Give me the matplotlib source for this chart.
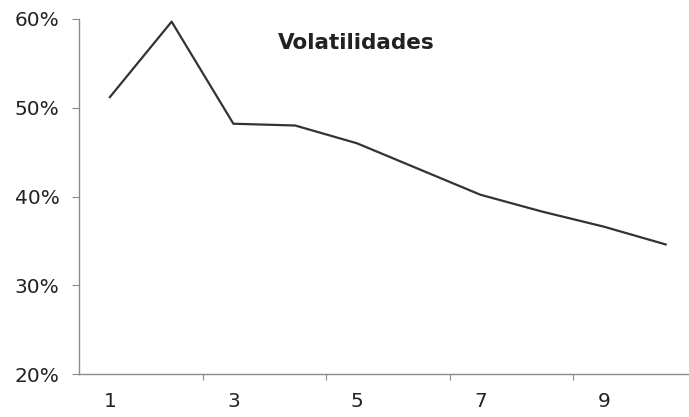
import matplotlib.pyplot as plt
from matplotlib.ticker import FixedLocator, PercentFormatter

# Data
periodo = list(range(1, 11))
volatilidad = [51.2, 59.7, 48.2, 48.0, 46.0, 43.1, 40.2, 38.3, 36.6, 34.6]
y_ticks = [20, 30, 40, 50, 60]
x_labels = [1, 3, 5, 7, 9]

W, H = 689, 417
fig = plt.figure(figsize=(W / 100, H / 100), dpi=100)
ax = fig.add_axes([79 / W, (H - 374) / H, (W - 79) / W, (374 - 19) / H])

ax.plot(periodo, volatilidad, color="#333333", linewidth=1.6)

ax.set_ylim(20, 60)
ax.set_xlim(0.5, 0.5 + (W - 79) / 61.75)

for side in ["top", "right"]:
    ax.spines[side].set_visible(False)
for side in ["left", "bottom"]:
    ax.spines[side].set_color("#8a8a8a")
    ax.spines[side].set_linewidth(1.0)

# y axis
ax.set_yticks(y_ticks)
ax.yaxis.set_major_formatter(PercentFormatter(decimals=0))
ax.tick_params(axis="y", length=5, color="#8a8a8a", pad=9,
               labelsize=14.5, labelcolor="#222222")

# x axis: tick marks between categories, labels on odd categories
ax.xaxis.set_major_locator(FixedLocator([2.5, 4.5, 6.5, 8.5]))
ax.xaxis.set_major_formatter(plt.NullFormatter())
ax.xaxis.set_minor_locator(FixedLocator(x_labels))
ax.set_xticklabels([str(v) for v in x_labels], minor=True)
ax.tick_params(axis="x", which="major", length=4, color="#8a8a8a")
ax.tick_params(axis="x", which="minor", length=0, pad=13,
               labelsize=14.5, labelcolor="#222222")

fig.text(356.7 / W, 1 - 43 / H, "Volatilidades", ha="center", va="center",
         fontsize=15.5, fontweight="bold", color="#222222")

fig.savefig("out.png", dpi=100)
